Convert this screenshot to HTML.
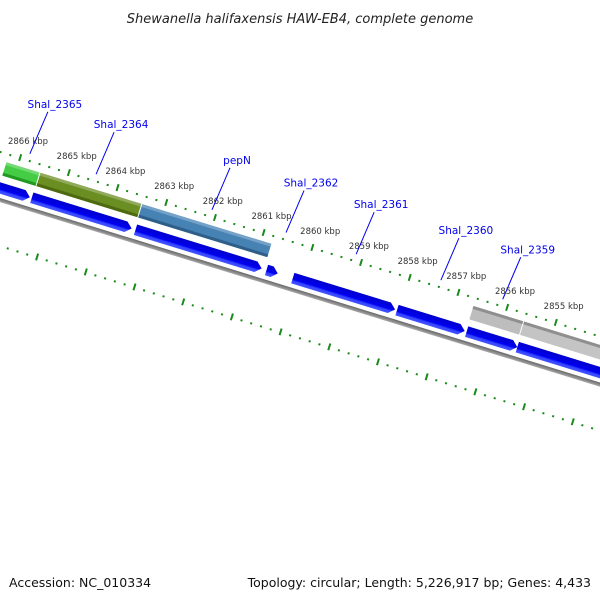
<!DOCTYPE html>
<html><head><meta charset="utf-8">
<style>
html,body{margin:0;padding:0;background:#fff;}
svg{display:block;font-family:"DejaVu Sans","Liberation Sans",sans-serif;}
</style></head>
<body>
<svg id="chart" width="600" height="600" viewBox="0 0 600 600">
  <defs>
    <linearGradient id="gBlue" x1="0" y1="0" x2="0" y2="1">
      <stop offset="0" stop-color="#0000cc"/><stop offset="0.6" stop-color="#0000f0"/><stop offset="0.75" stop-color="#3344ff"/><stop offset="1" stop-color="#4455ff"/>
    </linearGradient>
    <linearGradient id="gGrey" x1="0" y1="0" x2="0" y2="1">
      <stop offset="0" stop-color="#666"/><stop offset="1" stop-color="#aaa"/>
    </linearGradient>
  </defs>
  <text x="300" y="23" text-anchor="middle" font-size="13" font-style="italic" fill="#222">Shewanella halifaxensis HAW-EB4, complete genome</text>
  <g id="band" transform="translate(0,199) rotate(17.1)"></g>
  <g id="labels"></g>
  <text x="9" y="587" font-size="12.5" fill="#111">Accession: NC_010334</text>
  <text x="591" y="587" text-anchor="end" font-size="12.5" fill="#111">Topology: circular; Length: 5,226,917 bp; Genes: 4,433</text>
</svg>
<script>
const tickKbp = [2866,2865,2864,2863,2862,2861,2860,2859,2858,2857,2856,2855];
const tickLabels = ["2866 kbp","2865 kbp","2864 kbp","2863 kbp","2862 kbp","2861 kbp","2860 kbp","2859 kbp","2858 kbp","2857 kbp","2856 kbp","2855 kbp"];
const featNames = ["Shal_2365","Shal_2364","pepN","Shal_2359a","Shal_2359b"];
const featStart = [2866.24,2865.54,2863.45,2856.65,2855.61];
const featEnd = [2865.54,2863.45,2860.78,2855.61,2852.0];
const featFill = ["#44cc44","#6b8e23","#4682b4","#bdbdbd","#c4c4c4"];
const featEdge = ["#229922","#4d6a10","#2f5f88","#8f8f8f","#8f8f8f"];
const cdsStart = [2866.40,2865.56,2863.43,2860.74,2860.20,2858.06,2856.63,2855.59];
const cdsEnd = [2865.58,2863.49,2860.82,2860.49,2858.08,2856.65,2855.57,2852.0];
const geneLabels = ["Shal_2365","Shal_2364","pepN","Shal_2362","Shal_2361","Shal_2360","Shal_2359"];
const geneLabelKbp = [2865.84,2864.48,2862.10,2860.58,2859.14,2857.40,2856.13];

const NS="http://www.w3.org/2000/svg";
const C=Math.cos(17.1*Math.PI/180), S=Math.sin(17.1*Math.PI/180);
const U0=7.1, PER=50.95;
function u(k){return U0+(2866-k)*PER;}
function screen(uu,v){return [uu*C-v*S, 199+uu*S+v*C];}
const band=document.getElementById('band');
const lab=document.getElementById('labels');
function mk(tag,attrs,parent){const e=document.createElementNS(NS,tag);for(const k in attrs)e.setAttribute(k,attrs[k]);parent.appendChild(e);return e;}

let bb=mk('rect',{x:-100,y:-1,width:900,height:4,fill:'url(#gGrey)'},band);



function ruler(v,phase,name){
  for(let i=-10;i<=80;i++){
    const uu=phase+i*PER/5;
    if(uu<-60||uu>700)continue;
    const major=(i%5===0);
    const r=mk('rect',major?{x:uu-1,y:v-4,width:2,height:7,fill:'#1a8a1a'}:{x:uu-1,y:v-1,width:2,height:2,fill:'#1a8a1a'},band);
    
    
  }
}
ruler(-45,U0,'upper-ruler');
ruler(45,52.5,'lower-ruler');

for(let i=0;i<featNames.length;i++){
  const a=u(featStart[i]), b=u(featEnd[i]);
  const g=mk('g',{},band);
  
  
  mk('rect',{x:a+0.5,y:-37,width:b-a-1,height:14,fill:featFill[i]},g);
  if(i>=3) mk('rect',{x:a+0.5,y:-37,width:b-a-1,height:3,fill:featEdge[i]},g);
  else { mk('rect',{x:a+0.5,y:-26,width:b-a-1,height:3,fill:featEdge[i]},g);
         mk('rect',{x:a+0.5,y:-37,width:b-a-1,height:3,fill:'#ffffff',opacity:0.25},g); }
}

for(let i=0;i<cdsStart.length;i++){
  const a=u(cdsStart[i])+0.5, b=u(cdsEnd[i])-0.5;
  const h=Math.min(6,(b-a)*0.5);
  const p=mk('polygon',{points:`${a},-16 ${b-h},-16 ${b},-10.5 ${b-h},-5 ${a},-5`,fill:'url(#gBlue)'},band);
  
  
}

for(let i=0;i<tickKbp.length;i++){
  const [x,y]=screen(u(tickKbp[i]),-45);
  const t=mk('text',{x:x+8,y:y-14,'text-anchor':'middle','font-size':'8.5',fill:'#333'},lab);
  t.textContent=tickLabels[i];
  
  
}

for(let i=0;i<geneLabels.length;i++){
  const [x,y]=screen(u(geneLabelKbp[i]),-52);
  const l=mk('line',{x1:x,y1:y,x2:x+18,y2:y-42,stroke:'#0000ee','stroke-width':1},lab);
  
  
  const t=mk('text',{x:x+25,y:y-46,'text-anchor':'middle','font-size':'10.5',fill:'#0000ee'},lab);
  t.textContent=geneLabels[i];
  
  
}
</script>
</body></html>
